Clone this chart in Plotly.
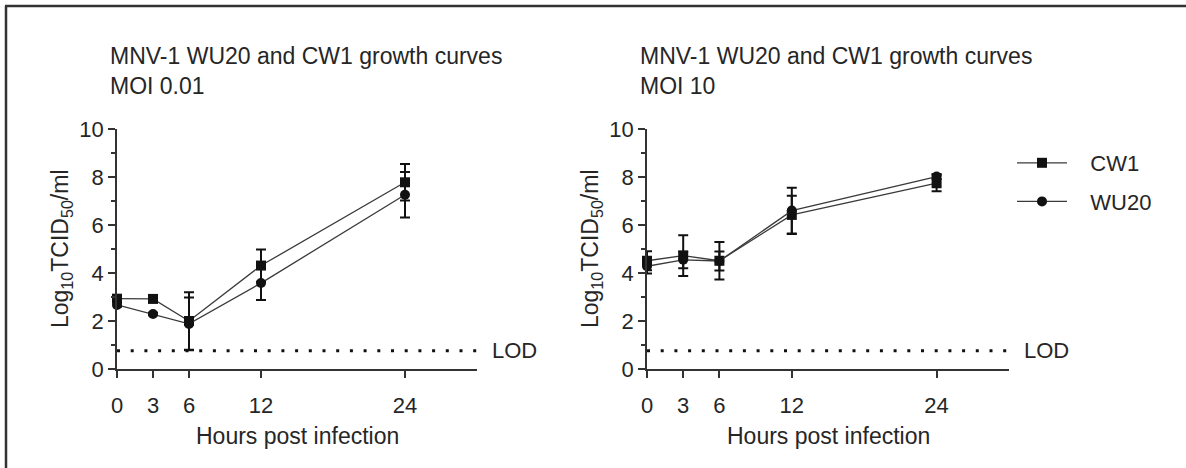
import plotly.graph_objects as go

# ---------------- data ----------------
hours = [0, 3, 6, 12, 24]
tick_hours = [0, 3, 6, 12, 24]
y_ticks = [0, 2, 4, 6, 8, 10]
lod_value = 0.76

# MOI 0.01
cw1_moi001 = [2.93, 2.92, 2.00, 4.31, 7.78]
cw1_moi001_err = [0.08, 0.05, 1.20, 0.67, 0.76]
wu20_moi001 = [2.67, 2.29, 1.88, 3.58, 7.26]
wu20_moi001_err = [0.08, 0.05, 1.10, 0.70, 0.95]

# MOI 10
cw1_moi10 = [4.51, 4.72, 4.51, 6.42, 7.74]
cw1_moi10_err = [0.40, 0.85, 0.78, 0.80, 0.33]
wu20_moi10 = [4.28, 4.55, 4.50, 6.60, 8.02]
wu20_moi10_err = [0.30, 0.35, 0.40, 0.95, 0.10]

titles = ["MNV-1 WU20 and CW1 growth curves<br>MOI 0.01",
          "MNV-1 WU20 and CW1 growth curves<br>MOI 10"]
series_names = ["CW1", "WU20"]
x_title = "Hours post infection"
y_title = "Log<sub>10</sub>TCID<sub>50</sub>/ml"
lod_label = "LOD"

# ---------------- layout constants ----------------
W, H = 1186, 468
FONT = "Arial, Liberation Sans, sans-serif"
TXT = "#262626"
AX = "#333333"
PAD = "\u00a0\u00a0\u00a0"  # visual gap between legend symbol and label

def px_x(p):
    return p / W

def px_y(p):
    return 1 - p / H

left_dom = [px_x(117), px_x(477)]
right_dom = [px_x(647), px_x(1009)]
y_dom = [px_y(369), px_y(129)]

fig = go.Figure()

panels = [
    ("x", "y", cw1_moi001, cw1_moi001_err, wu20_moi001, wu20_moi001_err, False),
    ("x2", "y2", cw1_moi10, cw1_moi10_err, wu20_moi10, wu20_moi10_err, True),
]

for xa, ya, cw, cwe, wu, wue, show in panels:
    # LOD dotted line
    fig.add_trace(go.Scatter(
        x=[0, 30], y=[lod_value, lod_value], mode="lines",
        line=dict(color="#111111", width=3, dash="3px,10.7px"),
        xaxis=xa, yaxis=ya, showlegend=False, hoverinfo="skip",
        cliponaxis=False))
    fig.add_trace(go.Scatter(
        x=hours, y=cw, name=PAD + series_names[0], mode="lines+markers",
        line=dict(color="#3a3a3a", width=1.3),
        marker=dict(symbol="square", size=10, color="#111111"),
        error_y=dict(type="data", array=cwe, visible=True,
                     color="#111111", thickness=2, width=5),
        xaxis=xa, yaxis=ya, showlegend=show, legendgroup="cw1",
        cliponaxis=False))
    fig.add_trace(go.Scatter(
        x=hours, y=wu, name=PAD + series_names[1], mode="lines+markers",
        line=dict(color="#3a3a3a", width=1.3),
        marker=dict(symbol="circle", size=10, color="#111111"),
        error_y=dict(type="data", array=wue, visible=True,
                     color="#111111", thickness=2, width=5),
        xaxis=xa, yaxis=ya, showlegend=show, legendgroup="wu20",
        cliponaxis=False))

xaxis_common = dict(
    range=[0, 30], tickvals=tick_hours, ticks="outside", ticklen=7,
    tickwidth=1.5, tickcolor=AX, showline=True, linecolor=AX, linewidth=1.5,
    showgrid=False, zeroline=False, ticklabelstandoff=9, automargin=False,
    tickfont=dict(family=FONT, size=22, color=TXT), fixedrange=True)
yaxis_common = dict(
    range=[0, 10], tickvals=y_ticks, ticks="outside", ticklen=7,
    tickwidth=1.5, tickcolor=AX, showline=True, linecolor=AX, linewidth=1.5,
    showgrid=False, zeroline=False, domain=y_dom, automargin=False,
    minor=dict(tick0=0, dtick=1, ticks="outside", ticklen=4,
               tickwidth=1.5, tickcolor=AX, showgrid=False),
    tickfont=dict(family=FONT, size=22, color=TXT), fixedrange=True)

fig.update_layout(
    width=W, height=H,
    margin=dict(l=0, r=0, t=0, b=0, pad=0, autoexpand=False),
    paper_bgcolor="white", plot_bgcolor="white",
    font=dict(family=FONT, color=TXT),
    xaxis=dict(domain=left_dom, anchor="y", **xaxis_common),
    yaxis=dict(anchor="x", **yaxis_common),
    xaxis2=dict(domain=right_dom, anchor="y2", **xaxis_common),
    yaxis2=dict(anchor="x2", **yaxis_common),
    legend=dict(x=px_x(1012), y=px_y(142), xanchor="left", yanchor="top",
                font=dict(family=FONT, size=22, color=TXT),
                bgcolor="rgba(0,0,0,0)", itemwidth=50,
                traceorder="grouped", tracegroupgap=7),
    showlegend=True,
)

annotations = []
for i, (xa, ya, ax0) in enumerate([("x", "y", 117), ("x2", "y2", 647)]):
    # panel title
    annotations.append(dict(
        text=titles[i], x=px_x(ax0 - 9), y=px_y(71), xref="paper", yref="paper",
        xanchor="left", yanchor="middle", align="left", showarrow=False,
        font=dict(family=FONT, size=23, color=TXT)))
    # x axis title
    annotations.append(dict(
        text=x_title, x=15, y=px_y(436), xref=xa, yref="paper",
        xanchor="center", yanchor="middle", showarrow=False,
        font=dict(family=FONT, size=23, color=TXT)))
    # y axis title
    annotations.append(dict(
        text=y_title, x=px_x(ax0 - 56), y=5, xref="paper", yref=ya,
        xanchor="center", yanchor="middle", textangle=-90, showarrow=False,
        font=dict(family=FONT, size=23, color=TXT)))
    # LOD label
    annotations.append(dict(
        text=lod_label, x=30, y=lod_value, xref=xa, yref=ya,
        xanchor="left", yanchor="middle", xshift=13, showarrow=False,
        font=dict(family=FONT, size=22, color=TXT)))
fig.update_layout(annotations=annotations)

# outer frame (top and left edges visible in the cropped figure)
fig.update_layout(shapes=[
    dict(type="line", xref="paper", yref="paper", x0=px_x(5), x1=1,
         y0=px_y(6), y1=px_y(6), line=dict(color=AX, width=2.5)),
    dict(type="line", xref="paper", yref="paper", x0=px_x(6), x1=px_x(6),
         y0=0, y1=px_y(6), line=dict(color=AX, width=2.5)),
])

fig.write_html("out.html",
               config={"displayModeBar": False},
               post_script="document.body.style.margin='0px';")
